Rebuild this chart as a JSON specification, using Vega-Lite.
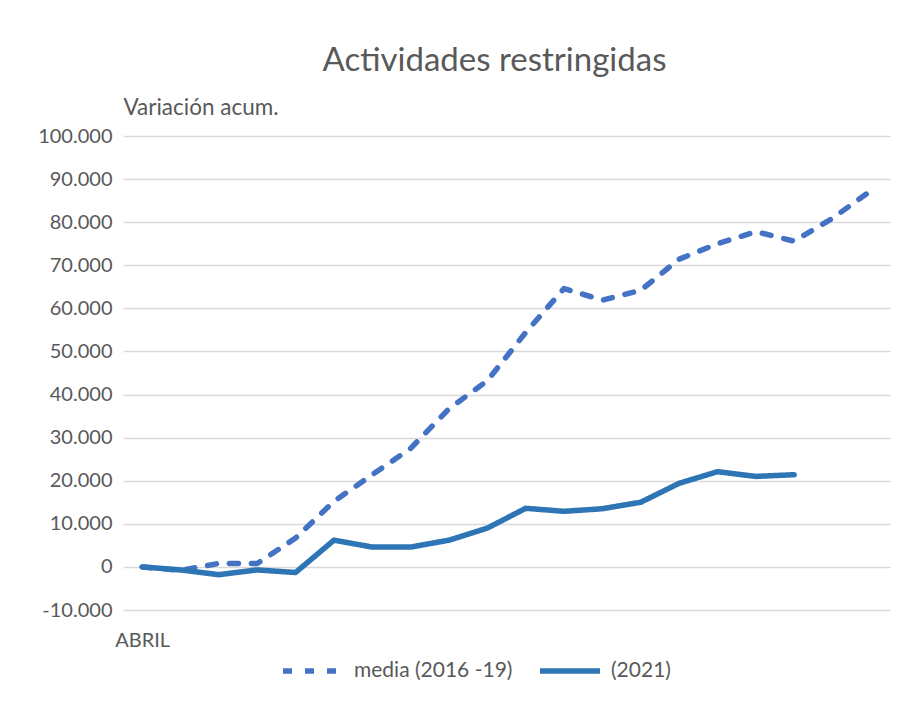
{
  "$schema": "https://vega.github.io/schema/vega-lite/v6.json",
  "autosize": {"type": "none"},
  "width": 767,
  "height": 474,
  "padding": {"left": 123, "top": 136, "right": 22, "bottom": 94},
  "background": "white",
  "config": {
    "font": "Lato",
    "view": {"stroke": null},
    "locale": {"number": {"decimal": ",", "thousands": ".", "grouping": [3], "currency": ["", " €"], "minus": "-"}}
  },
  "title": {
    "text": "Actividades restringidas",
    "fontSize": 33,
    "fontWeight": "normal",
    "color": "#595959",
    "anchor": "middle",
    "dx": -12,
    "offset": 18
  },
  "data": {
    "values": [
      {"i": 0, "serie": "media (2016 -19)", "valor": 0},
      {"i": 1, "serie": "media (2016 -19)", "valor": -800},
      {"i": 2, "serie": "media (2016 -19)", "valor": 800},
      {"i": 3, "serie": "media (2016 -19)", "valor": 800},
      {"i": 4, "serie": "media (2016 -19)", "valor": 6700},
      {"i": 5, "serie": "media (2016 -19)", "valor": 15200},
      {"i": 6, "serie": "media (2016 -19)", "valor": 21400},
      {"i": 7, "serie": "media (2016 -19)", "valor": 27500},
      {"i": 8, "serie": "media (2016 -19)", "valor": 36700},
      {"i": 9, "serie": "media (2016 -19)", "valor": 43200},
      {"i": 10, "serie": "media (2016 -19)", "valor": 54400},
      {"i": 11, "serie": "media (2016 -19)", "valor": 64600},
      {"i": 12, "serie": "media (2016 -19)", "valor": 61900},
      {"i": 13, "serie": "media (2016 -19)", "valor": 64200},
      {"i": 14, "serie": "media (2016 -19)", "valor": 71400},
      {"i": 15, "serie": "media (2016 -19)", "valor": 75000},
      {"i": 16, "serie": "media (2016 -19)", "valor": 77800},
      {"i": 17, "serie": "media (2016 -19)", "valor": 75600},
      {"i": 18, "serie": "media (2016 -19)", "valor": 80900},
      {"i": 19, "serie": "media (2016 -19)", "valor": 87300},
      {"i": 0, "serie": "(2021)", "valor": 0},
      {"i": 1, "serie": "(2021)", "valor": -700},
      {"i": 2, "serie": "(2021)", "valor": -1800},
      {"i": 3, "serie": "(2021)", "valor": -700},
      {"i": 4, "serie": "(2021)", "valor": -1300},
      {"i": 5, "serie": "(2021)", "valor": 6200},
      {"i": 6, "serie": "(2021)", "valor": 4600},
      {"i": 7, "serie": "(2021)", "valor": 4600},
      {"i": 8, "serie": "(2021)", "valor": 6200},
      {"i": 9, "serie": "(2021)", "valor": 9000},
      {"i": 10, "serie": "(2021)", "valor": 13600},
      {"i": 11, "serie": "(2021)", "valor": 12900},
      {"i": 12, "serie": "(2021)", "valor": 13500},
      {"i": 13, "serie": "(2021)", "valor": 15000},
      {"i": 14, "serie": "(2021)", "valor": 19400},
      {"i": 15, "serie": "(2021)", "valor": 22100},
      {"i": 16, "serie": "(2021)", "valor": 21000},
      {"i": 17, "serie": "(2021)", "valor": 21400}
    ]
  },
  "mark": {"type": "line", "strokeWidth": 5.5, "strokeCap": "round", "strokeJoin": "round"},
  "encoding": {
    "x": {
      "field": "i",
      "type": "ordinal",
      "scale": {"type": "point", "padding": 0.5},
      "axis": {
        "title": null,
        "labelExpr": "datum.value == 0 ? 'ABRIL' : ''",
        "labelAngle": 0,
        "ticks": false,
        "domain": false,
        "grid": false,
        "labelFontSize": 20,
        "labelColor": "#595959",
        "labelPadding": 20
      }
    },
    "y": {
      "field": "valor",
      "type": "quantitative",
      "scale": {"domain": [-10000, 100000], "nice": false, "zero": false},
      "axis": {
        "values": [-10000, 0, 10000, 20000, 30000, 40000, 50000, 60000, 70000, 80000, 90000, 100000],
        "format": ",d",
        "title": "Variación acum.",
        "titleAngle": 0,
        "titleAlign": "left",
        "titleX": 0,
        "titleY": -29,
        "titleBaseline": "middle",
        "titleFontSize": 22.5,
        "titleFontWeight": "normal",
        "titleColor": "#595959",
        "labelFontSize": 20,
        "labelColor": "#595959",
        "labelPadding": 11,
        "ticks": false,
        "domain": false,
        "gridColor": "#D9D9D9",
        "gridWidth": 1.5
      }
    },
    "color": {
      "field": "serie",
      "type": "nominal",
      "scale": {"domain": ["media (2016 -19)", "(2021)"], "range": ["#4472C4", "#2E75B6"]},
      "legend": {
        "title": null,
        "orient": "none",
        "legendX": 157,
        "legendY": 502,
        "direction": "horizontal",
        "symbolType": "stroke",
        "symbolSize": 3600,
        "symbolStrokeWidth": 5.5,
        "labelFontSize": 21,
        "labelColor": "#595959",
        "columnPadding": 16,
        "labelOffset": 8
      }
    },
    "strokeDash": {
      "field": "serie",
      "type": "nominal",
      "scale": {"domain": ["media (2016 -19)", "(2021)"], "range": [[9, 13], [1, 0]]},
      "legend": {
        "title": null,
        "orient": "none",
        "legendX": 157,
        "legendY": 502,
        "direction": "horizontal",
        "symbolType": "stroke",
        "symbolSize": 3600,
        "symbolStrokeWidth": 5.5,
        "labelFontSize": 21,
        "labelColor": "#595959",
        "columnPadding": 16,
        "labelOffset": 8
      }
    }
  }
}
